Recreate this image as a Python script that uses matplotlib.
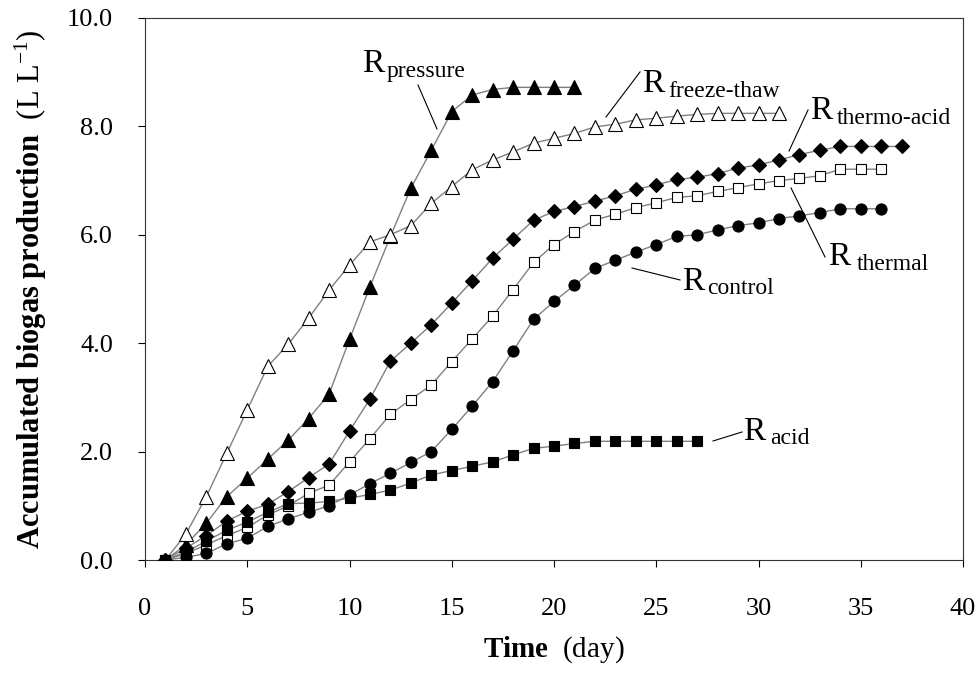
import matplotlib
matplotlib.use("Agg")
import matplotlib.pyplot as plt
from matplotlib.ticker import FormatStrFormatter

plt.rcParams['font.family'] = ['Liberation Serif', 'DejaVu Serif']
plt.rcParams['mathtext.fontset'] = 'custom'
plt.rcParams['mathtext.rm'] = 'Liberation Serif'
plt.rcParams['mathtext.bf'] = 'Liberation Serif:bold'
plt.rcParams['mathtext.it'] = 'Liberation Serif:italic'

# ---- data (accumulated biogas, L/L) ----
pressure = [0, 0.28, 0.68, 1.17, 1.51, 1.86, 2.21, 2.61, 3.06, 4.07, 5.04, 5.97,
            6.86, 7.56, 8.27, 8.58, 8.68, 8.72, 8.72, 8.72, 8.72]
freeze_thaw = [0, 0.48, 1.17, 1.97, 2.77, 3.57, 3.98, 4.46, 4.98, 5.44, 5.87, 6.0,
               6.17, 6.58, 6.89, 7.2, 7.38, 7.53, 7.69, 7.78, 7.87, 7.99, 8.04,
               8.12, 8.15, 8.19, 8.22, 8.24, 8.24, 8.24, 8.24]
thermo_acid = [0, 0.22, 0.45, 0.72, 0.9, 1.03, 1.26, 1.52, 1.77, 2.38, 2.97, 3.67,
               4.0, 4.34, 4.74, 5.15, 5.57, 5.92, 6.27, 6.43, 6.52, 6.62, 6.72,
               6.84, 6.92, 7.02, 7.06, 7.13, 7.23, 7.29, 7.38, 7.48, 7.56, 7.63,
               7.63, 7.63, 7.63]
thermal = [0, 0.12, 0.28, 0.45, 0.6, 0.83, 1.0, 1.23, 1.38, 1.81, 2.24, 2.69, 2.96,
           3.23, 3.66, 4.08, 4.5, 4.99, 5.49, 5.82, 6.06, 6.27, 6.38, 6.5, 6.59,
           6.69, 6.72, 6.8, 6.87, 6.94, 7.0, 7.04, 7.09, 7.21, 7.21, 7.21]
control = [0, 0.05, 0.12, 0.3, 0.4, 0.62, 0.76, 0.88, 1.0, 1.2, 1.41, 1.6, 1.8,
           2.0, 2.41, 2.84, 3.29, 3.86, 4.44, 4.77, 5.07, 5.38, 5.53, 5.68, 5.82,
           5.97, 6.0, 6.09, 6.17, 6.22, 6.3, 6.35, 6.41, 6.48, 6.48, 6.48]
acid = [0, 0.15, 0.35, 0.55, 0.7, 0.88, 1.04, 1.05, 1.08, 1.14, 1.21, 1.29, 1.42,
        1.57, 1.65, 1.73, 1.81, 1.94, 2.06, 2.1, 2.15, 2.19, 2.19, 2.19, 2.19,
        2.19, 2.19]

x_ticks = [0, 5, 10, 15, 20, 25, 30, 35, 40]
y_ticks = [0.0, 2.0, 4.0, 6.0, 8.0, 10.0]

series = [
    (pressure, '^', 'black', 10),
    (freeze_thaw, '^', 'white', 10),
    (thermo_acid, 'D', 'black', 7.0),
    (thermal, 's', 'white', 7.5),
    (control, 'o', 'black', 8.0),
    (acid, 's', 'black', 7.5),
]

fig = plt.figure(figsize=(9.79, 6.73), dpi=100)
ax = fig.add_axes([0.1481, 0.1679, 0.8356, 0.8054])

for vals, mk, fc, ms in series:
    days = list(range(1, len(vals) + 1))
    ax.plot(days, vals, color='#808080', lw=1.0, zorder=2)
    ax.plot(days, vals, ls='none', marker=mk, ms=ms, mfc=fc, mec='black',
            mew=0.8, zorder=3)

ax.set_xlim(0, 40)
ax.set_ylim(0, 10)
ax.set_xticks(x_ticks)
ax.set_yticks(y_ticks)
ax.yaxis.set_major_formatter(FormatStrFormatter('%.1f'))
ax.tick_params(axis='both', direction='out', length=5, width=0.8, color='black')
ax.tick_params(axis='x', labelsize=19, pad=22)
ax.tick_params(axis='y', labelsize=19, pad=18)
for s in ax.spines.values():
    s.set_linewidth(0.8)
    s.set_color('#333333')

ax.set_xlabel(r'$\mathbf{Time}$  (day)', fontsize=21, labelpad=11)
ax.set_ylabel(r'$\mathbf{Accumulated\ biogas\ production}$  (L L$^{-1}$)',
              fontsize=22, labelpad=13)


# annotation layout (reference pixel positions converted to data coords)
def px(x, y):
    return ((x - 145) / 20.45, (560 - y) / 54.2)


labels = [
    # (subscript, R baseline px, sub baseline px, leader start px, leader end px)
    ('pressure', (362, 72), (387, 77), (418, 85), (437, 129)),
    ('freeze-thaw', (642, 92), (668, 97), (640, 72), (606, 117)),
    ('thermo-acid', (810, 119), (837, 124), (808, 110), (789, 151)),
    ('thermal', (828, 265), (857, 270), (791, 188), (825, 257)),
    ('control', (682, 290), (707, 294), (632, 268), (680, 280)),
    ('acid', (743, 440), (770, 444), (713, 441), (742, 432)),
]
for sub, rpos, spos, l0, l1 in labels:
    ax.text(*px(*rpos), 'R', fontsize=24, ha='left', va='baseline', zorder=5)
    ax.text(*px(*spos), sub, fontsize=17, ha='left', va='baseline', zorder=5)
    (x0, y0), (x1, y1) = px(*l0), px(*l1)
    ax.plot([x0, x1], [y0, y1], color='black', lw=0.8, zorder=4)

fig.savefig('out.png', dpi=100)
